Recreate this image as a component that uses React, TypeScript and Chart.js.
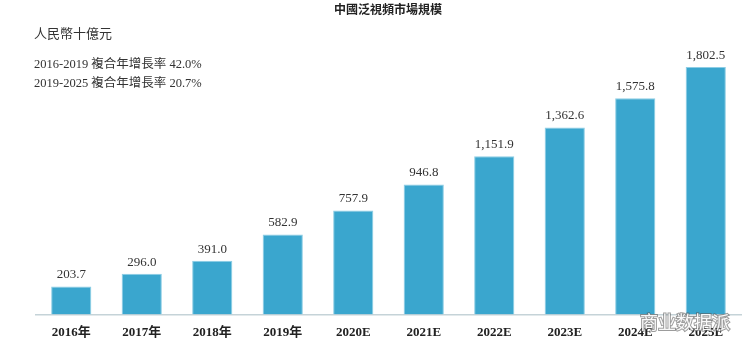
import React, { useEffect, useRef } from "react";
import { Chart, registerables } from "chart.js";

Chart.register(...registerables);

const categories = ["2016年", "2017年", "2018年", "2019年", "2020E", "2021E", "2022E", "2023E", "2024E", "2025E"];
const values = [203.7, 296.0, 391.0, 582.9, 757.9, 946.8, 1151.9, 1362.6, 1575.8, 1802.5];
const titleText = "中國泛視頻市場規模";
const unitText = "人民幣十億元";
const cagrLines = ["2016-2019 複合年增長率 42.0%", "2019-2025 複合年增長率 20.7%"];
const watermark = "商业数据派";

const SERIF = "'Liberation Serif', 'Times New Roman', 'Noto Sans CJK TC', serif";

function fmt(v: number): string {
  return v.toLocaleString("en-US", { minimumFractionDigits: 1, maximumFractionDigits: 1 });
}

const textPlugin = {
  id: "texts",
  afterDatasetsDraw(chart: any) {
    const ctx = chart.ctx;
    ctx.save();
    const meta = chart.getDatasetMeta(0);
    ctx.fillStyle = "#333333";
    ctx.font = `13px ${SERIF}`;
    ctx.textAlign = "center";
    ctx.textBaseline = "bottom";
    meta.data.forEach((el: any, i: number) => {
      ctx.fillText(fmt(values[i]), el.x, el.y - 5);
    });
    ctx.font = `bold 12px ${SERIF}`;
    ctx.fillStyle = "#222222";
    ctx.textBaseline = "middle";
    ctx.fillText(titleText, 388, 11);
    ctx.textAlign = "left";
    ctx.font = `13px ${SERIF}`;
    ctx.fillStyle = "#333333";
    ctx.fillText(unitText, 34, 35);
    ctx.font = `12.5px ${SERIF}`;
    ctx.fillText(cagrLines[0], 34, 65);
    ctx.fillText(cagrLines[1], 34, 84);
    ctx.font = `18px 'Noto Sans CJK SC', sans-serif`;
    ctx.lineWidth = 2;
    ctx.strokeStyle = "rgba(90,90,90,0.6)";
    ctx.fillStyle = "rgba(255,255,255,0.95)";
    ctx.strokeText(watermark, 640, 322);
    ctx.fillText(watermark, 640, 322);
    ctx.restore();
  },
};

export default function App() {
  const ref = useRef<HTMLCanvasElement | null>(null);
  useEffect(() => {
    if (!ref.current) return;
    const chart = new Chart(ref.current, {
      type: "bar",
      data: {
        labels: categories,
        datasets: [
          {
            data: values,
            backgroundColor: "#3AA6CE",
            borderColor: "#8CCDE5",
            borderWidth: 1,
            categoryPercentage: 1,
            barPercentage: 0.57,
          },
        ],
      },
      options: {
        animation: false,
        responsive: false,
        maintainAspectRatio: false,
        layout: { padding: { left: 36, right: 11, top: 40, bottom: 5 } },
        plugins: { legend: { display: false }, tooltip: { enabled: false }, title: { display: false } },
        scales: {
          x: {
            grid: { display: false, drawTicks: false },
            border: { display: true, color: "#C5D3D8", width: 1.5 },
            ticks: { color: "#222222", font: { family: SERIF, size: 13, weight: "bold" }, padding: 10 },
          },
          y: { display: false, min: 0, max: 2000 },
        },
      },
      plugins: [textPlugin],
    });
    return () => chart.destroy();
  }, []);
  return (
    <div style={{ position: "fixed", left: 0, top: 0, width: 752, height: 355, background: "#fff" }}>
      <canvas ref={ref} width={752} height={355} style={{ width: 752, height: 355 }} />
    </div>
  );
}
